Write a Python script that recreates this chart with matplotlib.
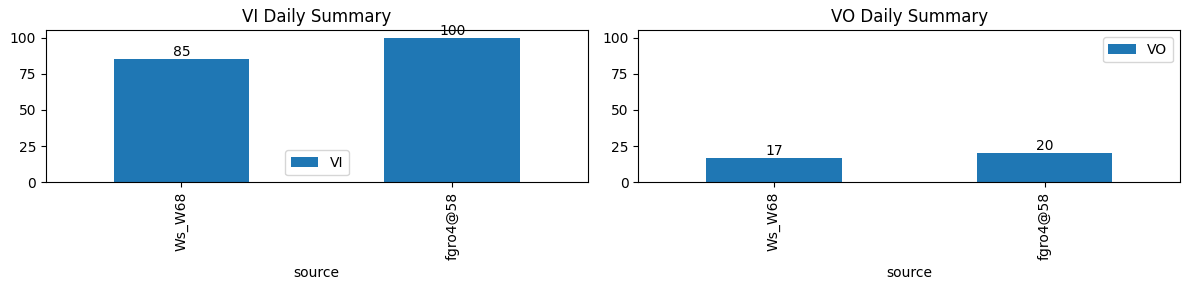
import pandas as pd
import matplotlib.pyplot as plt

sources = ['Ws_W68', 'fgro4@58']
vi_values = [85, 100]
vo_values = [17, 20]

df = pd.DataFrame({'source': sources, 'VI': vi_values, 'VO': vo_values}).set_index('source')

fig, axes = plt.subplots(1, 2, figsize=(11.89, 2.9), dpi=100)

ax = df[['VI']].plot(kind='bar', ax=axes[0], title='VI Daily Summary')
ax.bar_label(ax.containers[0])
ax.legend(loc='lower center')
ax.set_ylim(0, 105)

ax = df[['VO']].plot(kind='bar', ax=axes[1], title='VO Daily Summary')
ax.bar_label(ax.containers[0])
ax.legend(loc='upper right')
ax.set_ylim(0, 105)

fig.subplots_adjust(left=0.0387, right=0.9924, top=0.8955, bottom=0.3714, wspace=0.094)
plt.savefig('out.png')
